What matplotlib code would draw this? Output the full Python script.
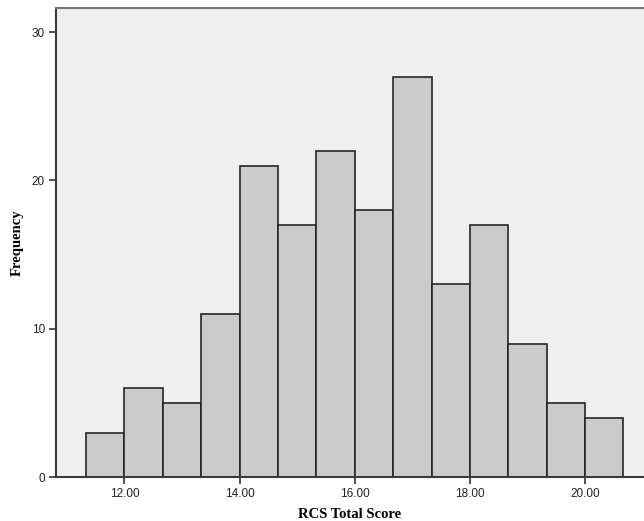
"""
RCS Total Score histogram (SPSS style)
"""

import numpy as np
import matplotlib.pyplot as plt

# bin edges: 14 bins of width 2/3 starting at 11.333
bin_start = 34 / 3
bin_width = 2 / 3
counts = [3, 6, 5, 11, 21, 17, 22, 18, 27, 13, 17, 9, 5, 4]
x_ticks = [12, 14, 16, 18, 20]
x_tick_labels = ['12.00', '14.00', '16.00', '18.00', '20.00']
y_ticks = [0, 10, 20, 30]


def main():
    fig = plt.figure(figsize=(6.44, 5.21), dpi=100)
    # plot area: left edge at px 56, top at px 8, bottom at px 477, runs off the right edge
    ax = fig.add_axes([56 / 644, 1 - 477 / 521, 1 - 56 / 644, (477 - 8) / 521])
    ax.set_facecolor('#f0f0f0')

    lefts = bin_start + bin_width * np.arange(len(counts))
    ax.bar(lefts, counts, width=bin_width, align='edge',
           color='#cbcbcb', edgecolor='#262626', linewidth=1.2)

    # 56px -> 12 - (124.5-56)/57.6 ; right edge at 644px
    ax.set_xlim(12 - 68.5 / 57.6, 20 + 59 / 57.6)
    ax.set_ylim(0, 30 + 24 / 14.83)

    ax.set_xticks(x_ticks)
    ax.set_xticklabels(x_tick_labels, family='Liberation Sans', fontsize=8.5, color='#222222')
    ax.set_yticks(y_ticks)
    ax.set_yticklabels([str(t) for t in y_ticks], family='Liberation Sans', fontsize=8.5,
                       color='#222222')
    ax.tick_params(axis='both', direction='out', length=5, width=1.2, color='#333333', pad=3)

    for side in ['left', 'bottom']:
        ax.spines[side].set_color('#3a3a3a')
        ax.spines[side].set_linewidth(1.5)
    ax.spines['top'].set_color('#777777')
    ax.spines['top'].set_linewidth(1.5)
    ax.spines['right'].set_visible(False)

    ax.set_xlabel('RCS Total Score', family='Liberation Serif', fontweight='bold',
                  fontsize=10.5, labelpad=6)
    ax.set_ylabel('Frequency', family='Liberation Serif', fontweight='bold',
                  fontsize=10.5, labelpad=6)

    fig.savefig('out.png', dpi=100)
    plt.close(fig)


if __name__ == "__main__":
    main()
